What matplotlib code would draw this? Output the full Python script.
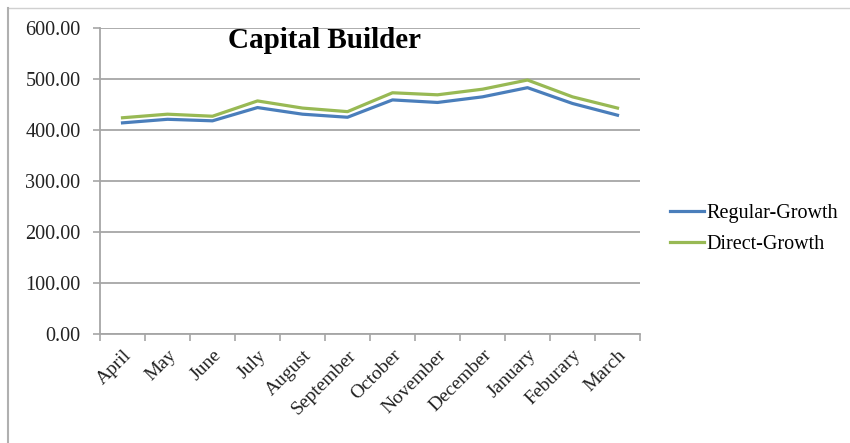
import matplotlib
matplotlib.use("Agg")
import matplotlib.pyplot as plt
from matplotlib.lines import Line2D
import numpy as np

months = ["April", "May", "June", "July", "August", "September", "October",
          "November", "December", "January", "Feburary", "March"]
regular_growth = [414, 421, 418, 444, 431, 425, 459, 454, 465, 483, 452, 429]
direct_growth = [424, 431, 427, 457, 443, 436, 473, 469, 480, 498, 465, 443]
y_ticks = [0, 100, 200, 300, 400, 500, 600]

BLUE = "#4A7EBB"
GREEN = "#98B954"
GRID = "#A6A6A6"

plt.rcParams["font.family"] = ["Liberation Serif", "DejaVu Serif"]

fig = plt.figure(figsize=(8.5, 4.43), dpi=100)
W, H = 850, 443
ax = fig.add_axes([100 / W, 1 - 334 / H, 540 / W, 306 / H])

x = np.arange(len(months))
ax.plot(x, regular_growth, color=BLUE, lw=2.3, label="Regular-Growth")
ax.plot(x, direct_growth, color=GREEN, lw=2.3, label="Direct-Growth")

ax.set_xlim(-0.5, len(months) - 0.5)
ax.set_ylim(0, 600)
ax.set_yticks(y_ticks)
ax.set_yticklabels([f"{v:.2f}" for v in y_ticks], fontsize=14.5, color="#222222")
ax.yaxis.grid(True, color=GRID, lw=1.3)
ax.set_axisbelow(True)

# category axis: ticks sit between categories, labels at the centres
ax.set_xticks(np.arange(-0.5, len(months), 1.0))
ax.set_xticklabels([])
ax.set_xticks(x, minor=True)
ax.set_xticklabels(months, minor=True, rotation=45, ha="right", va="top",
                   rotation_mode="anchor", fontsize=14, color="#222222")
ax.tick_params(axis="x", which="minor", length=0, pad=9)
ax.tick_params(axis="x", which="major", length=5, color=GRID, width=1.2)
ax.tick_params(axis="y", length=5, color=GRID, width=1.2, pad=9)

for side in ("top", "right"):
    ax.spines[side].set_visible(False)
for side in ("left", "bottom"):
    ax.spines[side].set_color(GRID)
    ax.spines[side].set_linewidth(1.3)

fig.text(325 / W, 1 - 40 / H, "Capital Builder", ha="center", va="center",
         fontsize=21, fontweight="bold")

fig.legend(loc="center left", bbox_to_anchor=(670 / W, 1 - 229 / H),
           frameon=False, fontsize=14.5, handlelength=1.7, handletextpad=0.12,
           labelspacing=0.55, borderpad=0, borderaxespad=0)

# faint outer chart border (top and left edges visible)
fig.add_artist(Line2D([8 / W, 1], [1 - 8 / H, 1 - 8 / H], color="#D0D0D0", lw=1))
fig.add_artist(Line2D([8 / W, 8 / W], [0, 1 - 8 / H], color="#B0B0B0", lw=1.5))

fig.savefig("out.png", dpi=100)
